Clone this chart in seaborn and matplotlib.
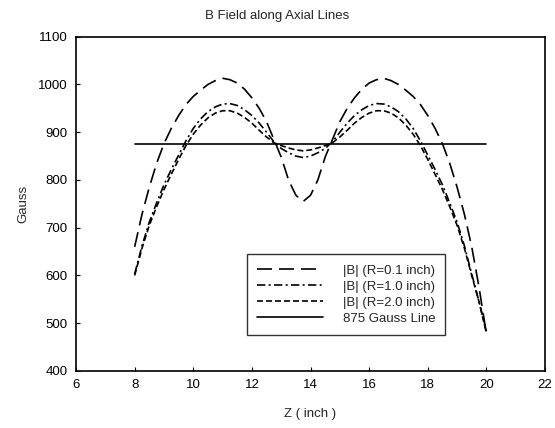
import numpy as np
import pandas as pd
import matplotlib
matplotlib.use('Agg')
import matplotlib.pyplot as plt
import seaborn as sns

# axial position (inch)
z = [8.0, 8.25, 8.5, 8.75, 9.0, 9.25, 9.5, 9.75, 10.0, 10.25, 10.5, 10.75,
     11.0, 11.25, 11.5, 11.75, 12.0, 12.25, 12.5, 12.75, 13.0, 13.25, 13.5,
     13.75, 14.0, 14.25, 14.5, 14.75, 15.0, 15.25, 15.5, 15.75, 16.0, 16.25,
     16.5, 16.75, 17.0, 17.25, 17.5, 17.75, 18.0, 18.25, 18.5, 18.75, 19.0,
     19.25, 19.5, 19.75, 20.0]

# |B| in Gauss
b_r01 = [660, 728, 785, 835, 876, 908, 935, 958, 975, 988, 1000, 1008,
         1013, 1010, 1003, 990, 972, 950, 922, 885, 848, 800, 768,
         755, 768, 800, 848, 885, 922, 950, 972, 990, 1003, 1010,
         1013, 1008, 1000, 988, 975, 958, 935, 908, 876, 835, 785,
         728, 660, 575, 478]
b_r10 = [603, 662, 712, 752, 790, 822, 852, 882, 908, 928, 943, 953,
         959, 960, 956, 947, 935, 919, 900, 880, 866, 857, 850,
         847, 850, 857, 866, 880, 900, 919, 935, 947, 956, 960,
         959, 953, 943, 928, 908, 882, 852, 822, 790, 752, 712,
         662, 603, 545, 482]
b_r20 = [600, 657, 705, 744, 780, 812, 843, 872, 896, 915, 930, 940,
         945, 945, 940, 931, 919, 904, 890, 878, 872, 867, 863,
         861, 863, 867, 872, 878, 890, 904, 919, 931, 940, 945,
         945, 940, 930, 915, 896, 872, 843, 812, 780, 744, 705,
         657, 600, 545, 480]

ref_z = [8.0, 20.0]
ref_b = [875, 875]

labels = ['|B| (R=0.1 inch)', '|B| (R=1.0 inch)', '|B| (R=2.0 inch)', '875 Gauss Line']

df = pd.concat([
    pd.DataFrame({'z': z, 'B': b_r01, 'series': labels[0]}),
    pd.DataFrame({'z': z, 'B': b_r10, 'series': labels[1]}),
    pd.DataFrame({'z': z, 'B': b_r20, 'series': labels[2]}),
    pd.DataFrame({'z': ref_z, 'B': ref_b, 'series': labels[3]}),
], ignore_index=True)

sns.set_style('ticks')
plt.rcParams['font.family'] = ['Liberation Sans', 'DejaVu Sans']

fig = plt.figure(figsize=(5.55, 4.28), dpi=100)
ax = fig.add_axes([0.137, 0.1332, 0.845, 0.781])

dashes = {
    labels[0]: (9, 4.2),
    labels[1]: (5, 2, 1.2, 2),
    labels[2]: (3.6, 1.8),
    labels[3]: '',
}
sns.lineplot(data=df, x='z', y='B', style='series', style_order=labels,
             dashes=dashes, color='black', linewidth=1.2, ax=ax,
             sort=False, estimator=None)

ax.set_xlim(6, 22)
ax.set_ylim(400, 1100)
ax.set_xticks(range(6, 23, 2))
ax.set_yticks(range(400, 1101, 100))
ax.tick_params(direction='in', length=3, width=0.8, labelsize=9.5, colors='black', pad=6)
for s in ax.spines.values():
    s.set_visible(True)
    s.set_color('black')
    s.set_linewidth(1.2)

fig.text(0.5, 1 - 16 / 428, 'B Field along Axial Lines', fontsize=9.5,
         ha='center', va='center')
ax.set_xlabel('Z ( inch )', fontsize=9.5, labelpad=12)
ax.set_ylabel('Gauss', fontsize=9.5, labelpad=6)

handles, _ = ax.get_legend_handles_labels()
leg = ax.legend(handles[-4:], labels, loc='lower left',
                bbox_to_anchor=(0.3646, 0.1077), borderaxespad=0, fontsize=9.5,
                handlelength=5.0, frameon=True, fancybox=False,
                edgecolor='black', borderpad=0.75, labelspacing=0.3,
                handletextpad=1.5)
leg.get_frame().set_linewidth(1.0)

fig.savefig('out.png', dpi=100)
